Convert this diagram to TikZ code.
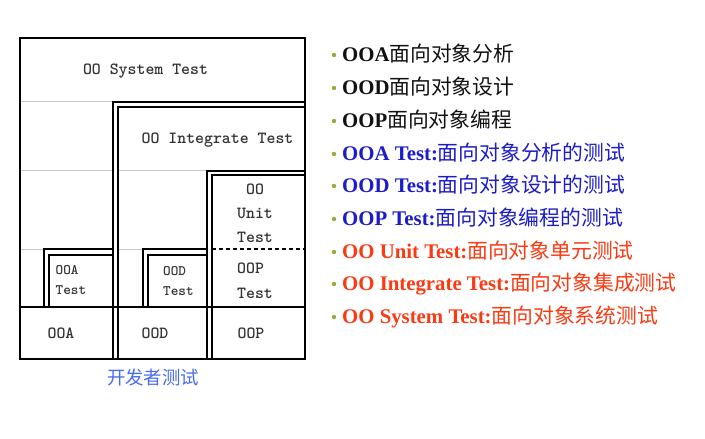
\documentclass[tikz,border=0pt]{standalone}
\usepackage{fontspec}
\setmainfont{Liberation Serif}
\newfontfamily\cjkfont{Noto Sans CJK SC}
\definecolor{itemblack}{RGB}{17,17,17}
\definecolor{itemblue}{RGB}{28,28,200}
\definecolor{itemred}{RGB}{250,58,18}
\definecolor{bulletcol}{RGB}{160,168,60}
\definecolor{devblue}{RGB}{72,108,238}
\definecolor{guide}{RGB}{200,200,200}
\tikzset{
  frame/.style={line width=2.4pt, line join=miter},
  wall/.style={line width=2pt, line join=miter},
  rowline/.style={line width=1.3pt},
  guideline/.style={draw=guide, line width=0.9pt},
  lbl/.style={font=\ttfamily\bfseries\fontsize{17}{20}\selectfont, inner sep=0pt, text=black!80},
  lblsmall/.style={font=\ttfamily\bfseries\fontsize{14.5}{17}\selectfont, inner sep=0pt, text=black!80, align=left},
  item/.style={font=\fontsize{20.8}{24}\selectfont, inner sep=0pt, anchor=base west},
  dot/.style={circle, fill=bulletcol, inner sep=0pt, minimum size=4.4pt},
}
\newcommand{\lat}[1]{\textbf{#1}}
\newcommand{\zh}[1]{{\cjkfont #1}}
\begin{document}
\begin{tikzpicture}[x=1pt,y=-1pt]
\useasboundingbox[fill=white] (0,0) rectangle (705,439);

% light guide lines across the empty cells
\draw[guideline] (20,101) -- (113,101);
\draw[guideline] (20,170) -- (113,170) (118,170) -- (207,170);
\draw[guideline] (20,249) -- (44,249) (118,249) -- (143,249);

% bottom row separator
\draw[rowline] (20,307) -- (305,307);

% integrate test: outer and inner walls
\draw[wall] (305,102) -- (113,102) -- (113,359);
\draw[wall] (305,107) -- (118,107) -- (118,359);
% OOA test step
\draw[wall] (113,249) -- (44,249) -- (44,307);
\draw[rowline] (49,307) -- (49,255) -- (113,255);

% unit test: outer and inner walls
\draw[wall] (305,171) -- (207,171) -- (207,359);
\draw[wall] (305,175) -- (212,175) -- (212,359);
% OOD test step
\draw[wall] (207,249) -- (143,249) -- (143,307);
\draw[rowline] (148,307) -- (148,255) -- (207,255);

% unit test / OOP test split
\draw[line width=1.3pt, dash pattern=on 4pt off 3pt] (212,249) -- (305,249);

% system test frame
\draw[frame] (20,38) rectangle (305,359);

% box labels
\node[lbl] (sys) at (145.5,71) {OO System Test};
\node[lbl] (integ) at (217.5,140) {OO Integrate Test};
\node[lbl] (unit1) at (255,189) {OO};
\node[lbl] (unit2) at (255,213) {Unit};
\node[lbl] (unit3) at (255,237) {Test};
\node[lbl, anchor=west] (ooptest1) at (237,268) {OOP};
\node[lbl, anchor=west] (ooptest2) at (237,293) {Test};
\node[lblsmall, anchor=west] (ooatest1) at (55.5,270) {OOA};
\node[lblsmall, anchor=west] (ooatest2) at (55.5,290.5) {Test};
\node[lblsmall, anchor=west] (oodtest1) at (163,271) {OOD};
\node[lblsmall, anchor=west] (oodtest2) at (163,291) {Test};
\node[lbl] (ooa) at (61,333) {OOA};
\node[lbl] (ood) at (155,333) {OOD};
\node[lbl] (oop) at (251,333) {OOP};

\node[font=\cjkfont\fontsize{18.4}{20}\selectfont, text=devblue, inner sep=0pt] (dev) at (153,378) {开发者测试};

% legend
\node[dot] (b1) at (334,55) {};
\node[dot] (b2) at (334,88) {};
\node[dot] (b3) at (334,121) {};
\node[dot] (b4) at (334,154) {};
\node[dot] (b5) at (334,186) {};
\node[dot] (b6) at (334,219) {};
\node[dot] (b7) at (334,252) {};
\node[dot] (b8) at (334,284) {};
\node[dot] (b9) at (334,317) {};

\node[item, text=itemblack] (t1) at (342,61) {\lat{OOA}\zh{面向对象分析}};
\node[item, text=itemblack] (t2) at (342,94) {\lat{OOD}\zh{面向对象设计}};
\node[item, text=itemblack] (t3) at (342,127) {\lat{OOP}\zh{面向对象编程}};
\node[item, text=itemblue] (t4) at (342,160) {\lat{OOA Test:}\zh{面向对象分析的测试}};
\node[item, text=itemblue] (t5) at (342,192) {\lat{OOD Test:}\zh{面向对象设计的测试}};
\node[item, text=itemblue] (t6) at (342,225) {\lat{OOP Test:}\zh{面向对象编程的测试}};
\node[item, text=itemred] (t7) at (342,258) {\lat{OO Unit Test:}\zh{面向对象单元测试}};
\node[item, text=itemred] (t8) at (342,290) {\lat{OO Integrate Test:}\zh{面向对象集成测试}};
\node[item, text=itemred] (t9) at (342,323) {\lat{OO System Test:}\zh{面向对象系统测试}};
\end{tikzpicture}
\end{document}
